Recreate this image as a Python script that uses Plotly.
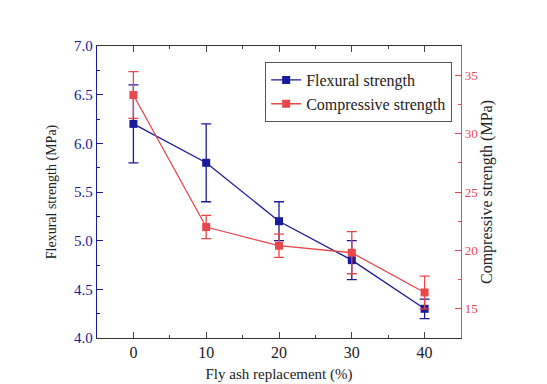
import plotly.graph_objects as go

fly_ash = [0, 10, 20, 30, 40]
flexural = [6.2, 5.8, 5.2, 4.8, 4.3]
flexural_err = [0.4, 0.4, 0.2, 0.2, 0.1]
compressive = [33.3, 22.0, 20.4, 19.8, 16.4]
compressive_err = [2.0, 1.0, 1.0, 1.8, 1.4]

BLUE = "#1a1a9c"
RED = "#e8484a"
FONT = "Liberation Serif"

fig = go.Figure()
fig.add_trace(go.Scatter(
    x=fly_ash, y=flexural, name="Flexural strength", mode="lines+markers",
    line=dict(color=BLUE, width=1.3),
    marker=dict(symbol="square", size=8, color=BLUE),
    error_y=dict(type="data", array=flexural_err, color=BLUE, thickness=1.3, width=5),
))
fig.add_trace(go.Scatter(
    x=fly_ash, y=compressive, name="Compressive strength", mode="lines+markers",
    line=dict(color=RED, width=1.3),
    marker=dict(symbol="square", size=8, color=RED),
    error_y=dict(type="data", array=compressive_err, color=RED, thickness=1.3, width=5),
    yaxis="y2",
))

fig.update_layout(
    width=547, height=384,
    margin=dict(l=89, r=94, t=38, b=52),
    paper_bgcolor="white", plot_bgcolor="white",
    font=dict(family=FONT, size=14, color="#222"),
    showlegend=True,
    legend=dict(x=0.462, y=0.945, xanchor="left", yanchor="top",
                bordercolor="#555", borderwidth=1, bgcolor="white",
                font=dict(family=FONT, size=16, color="#222"),
                tracegroupgap=0, itemwidth=30),
    xaxis=dict(
        range=[-5, 45], tickvals=fly_ash, ticks="inside", ticklen=6,
        showline=True, linecolor="#333", linewidth=1.3, mirror="ticks",
        showgrid=False, zeroline=False,
        minor=dict(ticks="inside", ticklen=3, dtick=5, tick0=5, showgrid=False),
        title=dict(text="Fly ash replacement (%)", font=dict(size=15), standoff=8),
        tickfont=dict(size=16, color="#222"),
    ),
    yaxis=dict(
        range=[4.0, 7.0], dtick=0.5, tickformat=".1f", ticks="inside", ticklen=6,
        showline=True, linecolor=BLUE, linewidth=1.3, tickcolor=BLUE,
        showgrid=False, zeroline=False,
        minor=dict(ticks="inside", ticklen=3, dtick=0.25, showgrid=False),
        title=dict(text="Flexural strength (MPa)", font=dict(size=14, color="#222"), standoff=14),
        tickfont=dict(size=15, color=BLUE),
    ),
    yaxis2=dict(
        range=[12.5, 37.5], tickvals=[15, 20, 25, 30, 35], ticks="inside", ticklen=6,
        overlaying="y", side="right",
        showline=True, linecolor=RED, linewidth=1.3, tickcolor=RED,
        showgrid=False, zeroline=False,
        minor=dict(ticks="inside", ticklen=3, dtick=2.5, tick0=12.5, showgrid=False),
        title=dict(text="Compressive strength (MPa)", font=dict(size=16, color="#222"), standoff=4),
        tickfont=dict(size=13, color=RED),
    ),
)

fig.write_html("out.html")
